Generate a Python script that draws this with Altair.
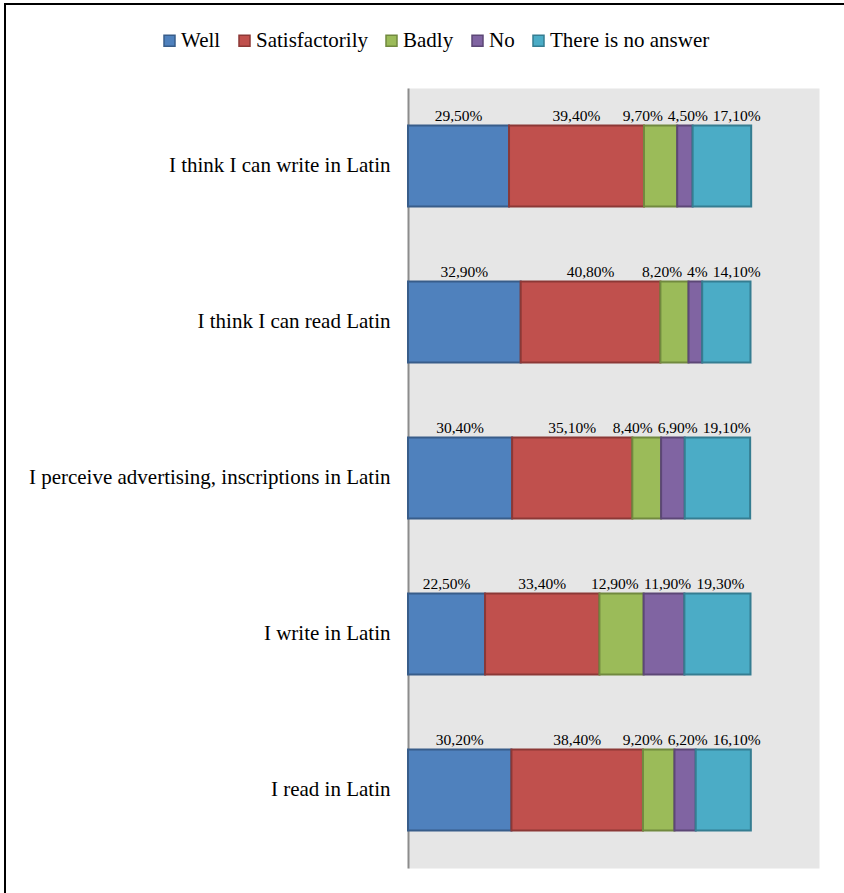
import altair as alt
import pandas as pd

# ---- data ----
categories = [
    "I think I can write in Latin",
    "I think I can read Latin",
    "I perceive advertising, inscriptions in Latin",
    "I write in Latin",
    "I read in Latin",
]
series = ["Well", "Satisfactorily", "Badly", "No", "There is no answer"]
well = [29.5, 32.9, 30.4, 22.5, 30.2]
satisfactorily = [39.4, 40.8, 35.1, 33.4, 38.4]
badly = [9.7, 8.2, 8.4, 12.9, 9.2]
no = [4.5, 4.0, 6.9, 11.9, 6.2]
no_answer = [17.1, 14.1, 19.1, 19.3, 16.1]

fills = ["#4F81BD", "#C0504D", "#9BBB59", "#8064A2", "#4BACC6"]
strokes = ["#385D8A", "#8C3836", "#71893F", "#5C4776", "#357D91"]

PLOT_W, PLOT_H = 411, 780
X_MAX = 120
LABEL_FS = 15.5
FONT = "'Liberation Serif', 'Times New Roman', Times, serif"

values = [well, satisfactorily, badly, no, no_answer]


def fmt(v):
    if float(v).is_integer():
        return f"{int(v)}%"
    return f"{v:.2f}".replace(".", ",") + "%"


EM = {",": 0.25, "%": 0.833}


def text_w(s):
    return sum(EM.get(ch, 0.5) for ch in s) * LABEL_FS


def place(centers, widths, gap):
    # merge overlapping labels into clusters centered on their targets
    clusters = [[i] for i in range(len(centers))]

    def layout(cl):
        offs, acc = [], 0.0
        for k, i in enumerate(cl):
            offs.append(acc + widths[i] / 2)
            acc += widths[i] + gap
        total = acc - gap
        left = sum(centers[i] - o for i, o in zip(cl, offs)) / len(cl)
        return left, left + total, [left + o for o in offs]

    changed = True
    while changed:
        changed = False
        for k in range(len(clusters) - 1):
            l1, r1, _ = layout(clusters[k])
            l2, r2, _ = layout(clusters[k + 1])
            if r1 + gap > l2:
                clusters[k] = clusters[k] + clusters[k + 1]
                del clusters[k + 1]
                changed = True
                break
    pos = [0.0] * len(centers)
    for cl in clusters:
        _, _, ps = layout(cl)
        for i, p in zip(cl, ps):
            pos[i] = p
    return pos


ppu = PLOT_W / X_MAX
rows = []
for ci, cat in enumerate(categories):
    start = 0.0
    centers, widths, tmp = [], [], []
    for si, s in enumerate(series):
        v = values[si][ci]
        lab = fmt(v)
        tmp.append(dict(cat=cat, series=s, value=v, order=si,
                        start=start, end=start + v, label=lab))
        centers.append((start + v / 2) * ppu)
        widths.append(text_w(lab))
        start += v
    pos = place(centers, widths, 5)
    for r, p in zip(tmp, pos):
        r["lx"] = p / ppu
        rows.append(r)

df = pd.DataFrame(rows)

xscale = alt.Scale(domain=[0, X_MAX], nice=False, zero=True)
yscale = alt.Scale(paddingInner=0.48, paddingOuter=0.24)

legend_cfg = dict(
    orient="none", legendX=-249, legendY=-58, direction="horizontal",
    title=None, symbolType="square", symbolSize=121, symbolStrokeWidth=1.5,
    labelFont=FONT, labelFontSize=21, labelColor="black", labelOffset=1,
    columnPadding=13, symbolOpacity=1,
)

bars = alt.Chart(df).mark_bar(strokeWidth=2).encode(
    y=alt.Y("cat:N", sort=categories, scale=yscale,
            axis=alt.Axis(title=None, ticks=False, domain=True,
                          domainColor="#8C8C8C", domainWidth=2,
                          labelFont=FONT, labelFontSize=21, labelColor="black",
                          labelPadding=18, labelLimit=600, grid=False)),
    x=alt.X("start:Q", scale=xscale, axis=None),
    x2="end:Q",
    fill=alt.Fill("series:N", sort=series,
                  scale=alt.Scale(domain=series, range=fills),
                  legend=alt.Legend(**legend_cfg)),
    stroke=alt.Stroke("series:N", sort=series,
                      scale=alt.Scale(domain=series, range=strokes),
                      legend=alt.Legend(**legend_cfg)),
)

labels = alt.Chart(df).mark_text(
    font=FONT, fontSize=LABEL_FS, color="black", baseline="alphabetic",
    align="center", dy=-45,
).encode(
    y=alt.Y("cat:N", sort=categories, scale=yscale),
    x=alt.X("lx:Q", scale=xscale),
    text="label:N",
)

border_left = alt.Chart(df).mark_rule(color="black", strokeWidth=2).encode(
    x=alt.value(-403), y=alt.value(-84), y2=alt.value(PLOT_H + 25)
)
border_top = alt.Chart(df).mark_rule(color="black", strokeWidth=2).encode(
    x=alt.value(-404), x2=alt.value(PLOT_W + 25), y=alt.value(-84)
)

chart = alt.layer(bars, labels, border_left, border_top).properties(
    width=PLOT_W, height=PLOT_H,
    autosize=alt.AutoSizeParams(type="none"),
    padding={"left": 408, "top": 88, "right": 25, "bottom": 25},
    background="white",
).configure_view(fill="#E6E6E6", stroke="transparent")

chart.save("out.html", embed_options={"renderer": "svg", "actions": False})
